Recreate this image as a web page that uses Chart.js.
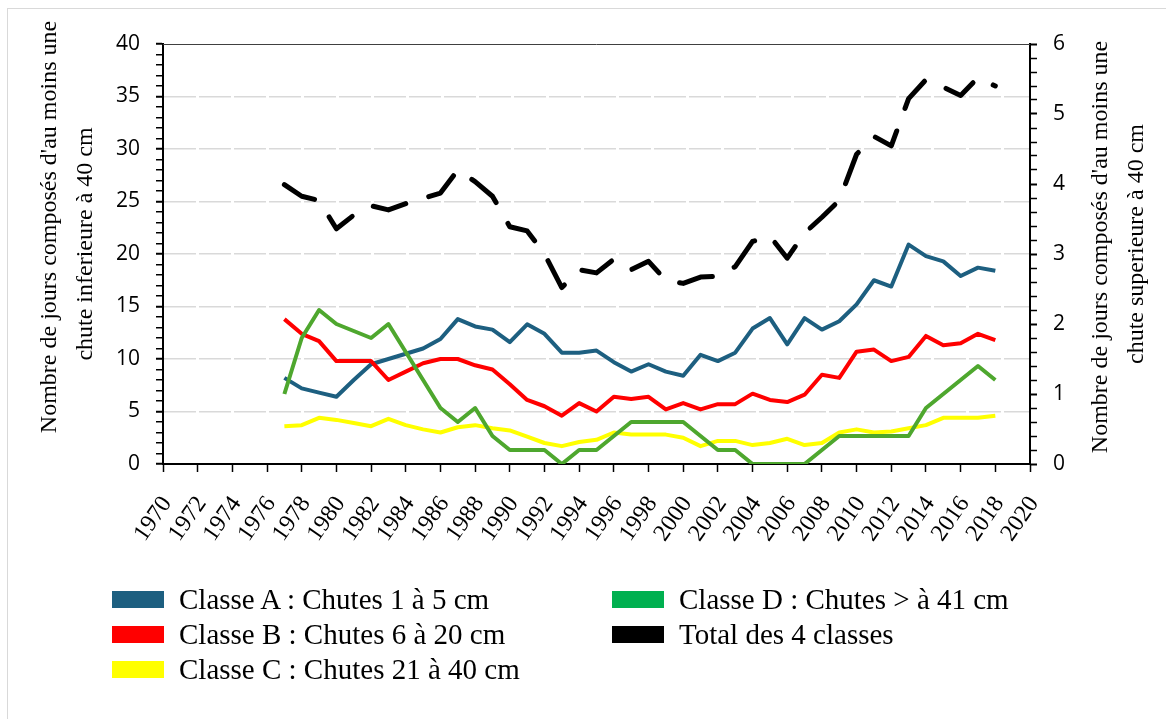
<!DOCTYPE html>
<html lang="fr">
<head>
<meta charset="utf-8">
<title>Chutes de neige</title>
<script src="https://cdn.jsdelivr.net/npm/chart.js@4/dist/chart.umd.min.js"></script>
<style>
  html, body { margin: 0; padding: 0; background: #fff; }
  #wrap { position: relative; width: 1166px; height: 719px; overflow: hidden; }
  #frame { position: absolute; left: 7px; top: 8px; right: -4px; bottom: -4px;
           border-top: 1.5px solid #d9d9d9; border-left: 1.5px solid #d9d9d9; }
  #chart { position: absolute; left: 0; top: 0; }
  #legend { position: absolute; left: 112px; top: 582px; display: grid;
            grid-template-columns: 500px auto; grid-template-rows: repeat(3, 35px);
            grid-auto-flow: column; }
  .item { display: flex; align-items: center; }
  .swatch { width: 52px; height: 17px; margin-right: 15px; flex: none; }
  .label { font-family: "Liberation Serif", "Times New Roman", serif; font-size: 29px;
           line-height: 1; white-space: nowrap; color: #000; }
</style>
</head>
<body>
<div id="wrap">
  <div id="frame"></div>
  <canvas id="chart" width="1166" height="719"></canvas>
  <div id="legend"></div>
</div>
<script>
// Years (one point per winter season)
var years = [1977, 1978, 1979, 1980, 1981, 1982, 1983, 1984, 1985, 1986,
             1987, 1988, 1989, 1990, 1991, 1992, 1993, 1994, 1995, 1996,
             1997, 1998, 1999, 2000, 2001, 2002, 2003, 2004, 2005, 2006,
             2007, 2008, 2009, 2010, 2011, 2012, 2013, 2014, 2015, 2016,
             2017, 2018];

// Left axis series (days)
var classeA = [8.2, 7.2, 6.8, 6.4, 8.0, 9.5, 10.0, 10.5, 11.0, 11.9,
               13.8, 13.1, 12.8, 11.6, 13.3, 12.4, 10.6, 10.6, 10.8, 9.7,
               8.8, 9.5, 8.8, 8.4, 10.4, 9.8, 10.6, 12.9, 13.9, 11.4,
               13.9, 12.8, 13.6, 15.2, 17.5, 16.9, 20.9, 19.8, 19.3, 17.9,
               18.7, 18.4];
var classeB = [13.8, 12.4, 11.7, 9.8, 9.8, 9.8, 8.0, 8.8, 9.6, 10.0,
               10.0, 9.4, 9.0, 7.6, 6.1, 5.5, 4.6, 5.8, 5.0, 6.4,
               6.2, 6.4, 5.2, 5.8, 5.2, 5.7, 5.7, 6.7, 6.1, 5.9,
               6.6, 8.5, 8.2, 10.7, 10.9, 9.8, 10.2, 12.2, 11.3, 11.5,
               12.4, 11.8];
var classeC = [3.6, 3.7, 4.4, 4.2, 3.9, 3.6, 4.3, 3.7, 3.3, 3.0,
               3.5, 3.7, 3.4, 3.2, 2.6, 2.0, 1.7, 2.1, 2.3, 3.0,
               2.8, 2.8, 2.8, 2.5, 1.7, 2.2, 2.2, 1.8, 2.0, 2.4,
               1.8, 2.0, 3.0, 3.3, 3.0, 3.1, 3.4, 3.7, 4.4, 4.4,
               4.4, 4.6];
var total = [26.6, 25.5, 25.1, 22.4, 23.7, 24.6, 24.2, 24.8, 25.3, 25.8,
             28.0, 26.9, 25.5, 22.6, 22.2, 20.0, 16.8, 18.5, 18.2, 19.5,
             18.5, 19.3, 17.5, 17.2, 17.8, 17.9, 18.8, 21.2, 21.7, 19.6,
             22.0, 23.5, 25.1, 29.5, 31.2, 30.3, 34.8, 36.6, 35.9, 35.1,
             36.8, 36.0];

// Right axis series (days with a fall above 40 cm)
var classeD = [1.0, 1.8, 2.2, 2.0, 1.9, 1.8, 2.0, 1.6, 1.2, 0.8,
               0.6, 0.8, 0.4, 0.2, 0.2, 0.2, 0.0, 0.2, 0.2, 0.4,
               0.6, 0.6, 0.6, 0.6, 0.4, 0.2, 0.2, 0.0, 0.0, 0.0,
               0.0, 0.2, 0.4, 0.4, 0.4, 0.4, 0.4, 0.8, 1.0, 1.2,
               1.4, 1.2];

var labels = {
  a: "Classe A : Chutes 1 à 5 cm",
  b: "Classe B : Chutes 6 à 20 cm",
  c: "Classe C : Chutes 21 à 40 cm",
  d: "Classe D : Chutes > à 41 cm",
  t: "Total des 4 classes"
};

var leftTitle = ["Nombre de jours composés d'au moins une", "chute inferieure à 40 cm"];
var rightTitle = ["Nombre de jours composés d'au moins une", "chute superieure à 40 cm"];

var SERIF = '"Liberation Serif", "Times New Roman", serif';
var SANS = '"Open Sans", "Liberation Sans", sans-serif';

function points(values) {
  return values.map(function (v, i) { return { x: years[i], y: v }; });
}

function line(label, values, color, swatch, axis, order) {
  return {
    label: label,
    data: points(values),
    borderColor: color,
    backgroundColor: color,
    legendColor: swatch,
    borderWidth: 4,
    borderJoinStyle: "round",
    pointRadius: 0,
    tension: 0,
    fill: false,
    yAxisID: axis,
    order: order
  };
}

function isWhole(v) { return Math.abs(v - Math.round(v)) < 1e-6; }

// Axis titles read bottom to top on both sides, drawn by hand
var axisTitles = {
  id: "axisTitles",
  afterDraw: function (chart) {
    var ctx = chart.ctx;
    var area = chart.chartArea;
    var spots = [
      [leftTitle[0], 50, 227], [leftTitle[1], 86, 244],
      [rightTitle[0], 1101, 247], [rightTitle[1], 1137, 244]
    ];
    ctx.save();
    ctx.fillStyle = "#000";
    ctx.font = "24px " + SERIF;
    ctx.textAlign = "center";
    ctx.textBaseline = "middle";
    spots.forEach(function (s) {
      ctx.save();
      ctx.translate(s[1], s[2]);
      ctx.rotate(-Math.PI / 2);
      ctx.fillText(s[0], 0, 0);
      ctx.restore();
    });
    // thin frame line on top of plot area
    ctx.strokeStyle = "#404040";
    ctx.lineWidth = 1;
    ctx.beginPath();
    ctx.moveTo(area.left, area.top + 0.5);
    ctx.lineTo(area.right, area.top + 0.5);
    ctx.stroke();
    ctx.restore();
  }
};

function draw() {
  var datasets = [
    line(labels.a, classeA, "#1d5f80", "#1d5f80", "y", 4),
    line(labels.b, classeB, "#ff0000", "#ff0000", "y", 3),
    line(labels.c, classeC, "#ffff00", "#ffff00", "y", 5),
    line(labels.d, classeD, "#4ea72e", "#00b050", "y1", 2),
    line(labels.t, total, "#000000", "#000000", "y", 1)
  ];
  datasets[4].borderWidth = 5;
  datasets[4].borderDash = [34, 24];
  datasets[4].borderCapStyle = "round";

  var chart = new Chart(document.getElementById("chart"), {
    type: "line",
    data: { datasets: datasets },
    plugins: [axisTitles],
    options: {
      responsive: false,
      animation: false,
      devicePixelRatio: 1,
      layout: { padding: { top: 44, left: 0, right: 0, bottom: 0 } },
      plugins: { legend: { display: false }, tooltip: { enabled: false } },
      scales: {
        x: {
          type: "linear",
          position: "bottom",
          min: 1970,
          max: 2020,
          afterFit: function (s) { s.height = 255; },
          ticks: {
            stepSize: 2,
            autoSkip: false,
            minRotation: 55,
            maxRotation: 55,
            padding: 19,
            labelOffset: 4,
            color: "#000",
            font: { family: SERIF, size: 24 },
            callback: function (v) { return String(v); }
          },
          grid: { drawOnChartArea: false, tickLength: 8, tickColor: "#000", tickWidth: 1.5 },
          border: { color: "#000", width: 2 }
        },
        y: {
          position: "left",
          min: 0,
          max: 40,
          afterFit: function (s) { s.width = 163; },
          ticks: {
            stepSize: 1,
            autoSkip: false,
            padding: 16,
            color: "#000",
            font: { family: SANS, size: 21 },
            callback: function (v) { return v % 5 === 0 ? v : ""; }
          },
          grid: {
            color: function (c) {
              var v = c.tick ? c.tick.value : 0;
              return (v % 5 === 0 && v > 0 && v < 40) ? "#d9d9d9" : "rgba(0,0,0,0)";
            },
            lineWidth: 1.5,
            tickLength: 7,
            tickColor: "#000",
            tickWidth: function (c) { return c.tick && c.tick.value % 5 === 0 ? 2 : 1.5; }
          },
          border: { color: "#000", width: 2, dash: [32, 3] }
        },
        y1: {
          position: "right",
          min: 0,
          max: 6,
          afterFit: function (s) { s.width = 136; },
          ticks: {
            stepSize: 0.2,
            autoSkip: false,
            padding: 16,
            color: "#000",
            font: { family: SANS, size: 21 },
            callback: function (v) { return isWhole(v) ? Math.round(v) : ""; }
          },
          grid: {
            drawOnChartArea: false,
            tickLength: 7,
            tickColor: "#000",
            tickWidth: function (c) { return c.tick && isWhole(c.tick.value) ? 2 : 1.5; }
          },
          border: { color: "#000", width: 2 }
        }
      }
    }
  });

  // HTML legend in two columns, built from the datasets
  var legend = document.getElementById("legend");
  chart.data.datasets.forEach(function (ds) {
    var item = document.createElement("div");
    item.className = "item";
    var sw = document.createElement("span");
    sw.className = "swatch";
    sw.style.background = ds.legendColor;
    var txt = document.createElement("span");
    txt.className = "label";
    txt.textContent = ds.label;
    item.appendChild(sw);
    item.appendChild(txt);
    legend.appendChild(item);
  });
}

// canvas text needs the fonts loaded first
Promise.all([
  document.fonts.load("24px " + SERIF),
  document.fonts.load("21px " + SANS)
]).then(draw, draw);
</script>
</body>
</html>
